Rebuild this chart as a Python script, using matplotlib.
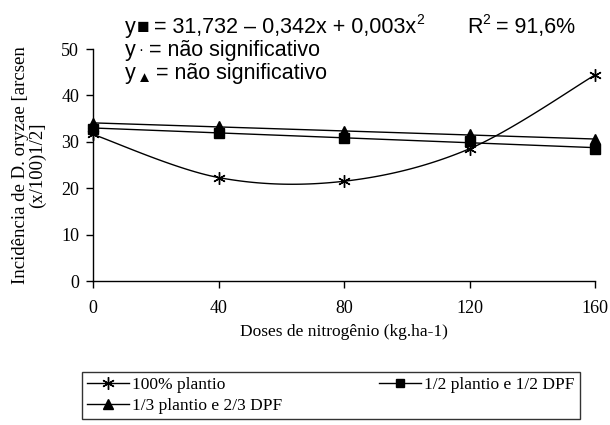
import numpy as np
import matplotlib
matplotlib.use("Agg")
import matplotlib.pyplot as plt

# Data
doses = [0, 40, 80, 120, 160]
plantio100 = [31.6, 22.3, 21.5, 28.5, 44.4]
plantioMeio = [32.8, 32.0, 30.9, 30.2, 28.4]
plantioTerco = [34.0, 33.3, 32.3, 31.6, 30.5]
xTicks = [0, 40, 80, 120, 160]
yTicks = [0, 10, 20, 30, 40, 50]

serif = ["Liberation Serif", "DejaVu Serif"]
sans = ["Liberation Sans", "DejaVu Sans"]

# Smooth line through points (Catmull-Rom, like a spreadsheet smoothed line)
def smoothLine(x, y, n=30):
    x = np.asarray(x, float); y = np.asarray(y, float)
    px = np.concatenate([[x[0]], x, [x[-1]]])
    py = np.concatenate([[y[0]], y, [y[-1]]])
    xs, ys = [], []
    for i in range(1, len(px)-2):
        t = np.linspace(0, 1, n)
        for p, out in ((px, xs), (py, ys)):
            p0, p1, p2, p3 = p[i-1], p[i], p[i+1], p[i+2]
            out.append(0.5*((2*p1) + (-p0+p2)*t + (2*p0-5*p1+4*p2-p3)*t**2 + (-p0+3*p1-3*p2+p3)*t**3))
    return np.concatenate(xs), np.concatenate(ys)

fig = plt.figure(figsize=(6.1, 4.25), dpi=100)
ax = fig.add_axes([0.1525, 0.3388, 0.8229, 0.5459])

sx, sy = smoothLine(doses, plantio100)
ax.plot(sx, sy, color="black", lw=1, clip_on=False)
ax.plot(doses, plantio100, ls="none", marker=(6, 2, 0), ms=9, mec="black", mew=1, clip_on=False)

# Linear trend lines for the other two series
xs = np.array([doses[0], doses[-1]], float)
for vals, mk, ms in ((plantioMeio, "s", 6.5), (plantioTerco, "^", 7.5)):
    c = np.polyfit(doses, vals, 1)
    ax.plot(xs, np.polyval(c, xs), color="black", lw=1, clip_on=False)
    ax.plot(doses, vals, ls="none", marker=mk, ms=ms, color="black", clip_on=False)

# proxies for legend
h1, = ax.plot([], [], color="black", lw=1, marker=(6, 2, 0), ms=9, mew=1)
h2, = ax.plot([], [], color="black", lw=1, marker="s", ms=6)
h3, = ax.plot([], [], color="black", lw=1, marker="^", ms=7)

ax.set_xlim(0, 160)
ax.set_ylim(0, 50)
ax.set_xticks(xTicks)
ax.set_yticks(yTicks)
for s in ("top", "right"):
    ax.spines[s].set_visible(False)
for s in ("left", "bottom"):
    ax.spines[s].set_linewidth(1)
ax.tick_params(direction="out", length=5, width=1, labelsize=13)
ax.tick_params(axis="x", pad=9)
ax.tick_params(axis="y", pad=5)
for lab in ax.get_xticklabels() + ax.get_yticklabels():
    lab.set_family(serif)

ax.set_xlabel("Doses de nitrogênio (kg.ha-1)", family=serif, fontsize=12.5, labelpad=5)
ax.set_ylabel("Incidência de D. oryzae [arcsen\n(x/100)1/2]", family=serif, fontsize=13.5,
              labelpad=11, linespacing=1.0)

# equation text at top, pieces placed one after another
W, H = 610, 425
renderer = fig.canvas.get_renderer()
def textRun(px, py, pieces):
    for s, size, dy, gap in pieces:
        t = fig.text(px/W, 1-(py+dy)/H, s, family=sans, fontsize=size, va="baseline")
        px = t.get_window_extent(renderer).x1 + gap

textRun(125, 33, [("y", 15.5, 0, 1), ("■", 15, 0, 5), ("= 31,732 – 0,342x + 0,003x", 15.5, 0, 0),
                  ("2", 10, -9, 0)])
textRun(467, 33, [("R", 15.5, 0, 0), ("2", 10, -9, 6), ("= 91,6%", 15.5, 0, 0)])
textRun(125, 56, [("y", 15.5, 0, 3), ("·", 11, -2, 5), ("= não significativo", 15.5, 0, 0)])
textRun(125, 79, [("y", 15.5, 0, 1), ("▲", 11, 3, 4), ("= não significativo", 15.5, 0, 0)])

leg = fig.legend([h1, h3, h2], ["100% plantio", "1/3 plantio e 2/3 DPF", "1/2 plantio e 1/2 DPF"],
                 ncol=2, loc="upper left", bbox_to_anchor=(82/W, 1-420/H, (580-82)/W, 48/H),
                 mode="expand", prop={"family": serif, "size": 12.5}, frameon=True, fancybox=False,
                 edgecolor="black", handlelength=2.4, handletextpad=0.2, borderpad=0.3,
                 labelspacing=0.25, borderaxespad=0)
leg.get_frame().set_linewidth(1)

fig.savefig("out.png", dpi=100)
